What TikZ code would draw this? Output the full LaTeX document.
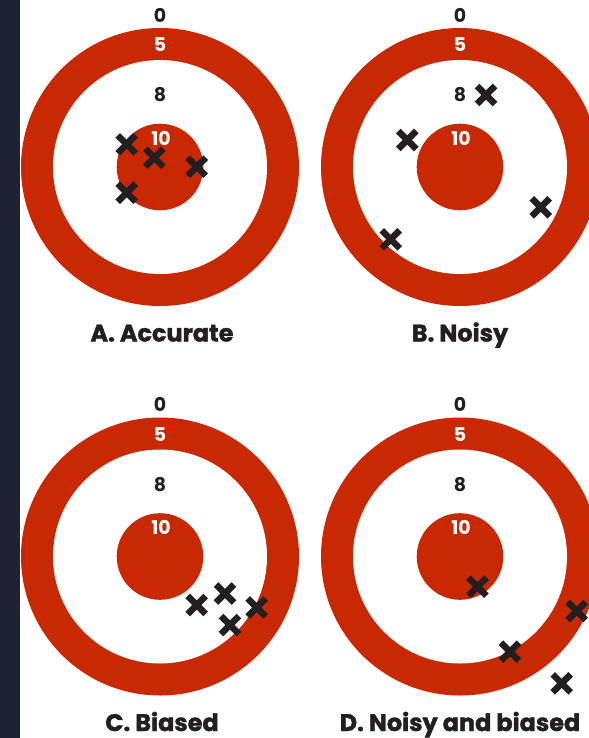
\documentclass[tikz,border=0pt]{standalone}
\usepackage{fontspec}
\setmainfont{Poppins}
\newfontfamily\ttlfont[BoldFeatures={FakeBold=1.6}]{Poppins}
\definecolor{hbrred}{RGB}{200,40,2}
\definecolor{strip}{RGB}{29,35,48}
\definecolor{ink}{RGB}{35,31,32}
\tikzset{
  num/.style={font=\bfseries\fontsize{19}{19}\selectfont, text=ink, inner sep=0pt},
  wnum/.style={font=\bfseries\fontsize{19}{19}\selectfont, text=white, inner sep=0pt},
  ttl/.style={font=\ttlfont\bfseries\fontsize{24}{24}\selectfont, text=ink, inner sep=0pt, anchor=base},
  hit/.style={draw=ink, line width=6.5bp},
}
\newcommand{\hitmark}[2]{\draw[hit] (#1-9,#2-9) -- (#1+9,#2+9) (#1-9,#2+9) -- (#1+9,#2-9);}
\newcommand{\targetat}[3]{%
  \fill[hbrred] (#1,#2) circle (139);
  \fill[white] (#1,#2) circle (107);
  \fill[hbrred] (#1,#2) circle (43.3);
  \node[num] (#3z) at (#1,#2-152) {0};
  \node[wnum] (#3f) at (#1,#2-122) {5};
  \node[num] (#3e) at (#1,#2-72) {8};
  \node[wnum] (#3t) at (#1+1,#2-29) {10};
}
\begin{document}
\begin{tikzpicture}[x=1bp,y=-1bp]
\useasboundingbox (0,0) rectangle (589,738);
\clip (0,0) rectangle (589,738);
\fill[white] (0,0) rectangle (589,738);
\fill[strip] (0,0) rectangle (20,738);
% A
\targetat{160}{167}{a}
\node[ttl] (atitle) at (162,341.5) {A. Accurate};
\hitmark{126.7}{144.3}
\hitmark{154.3}{157.7}
\hitmark{196.7}{166.7}
\hitmark{126.7}{192.7}
% B
\targetat{460}{167}{b}
\node[ttl] (btitle) at (460,341.5) {B. Noisy};
\hitmark{486}{95}
\hitmark{407.3}{140}
\hitmark{540.7}{207.3}
\hitmark{390.7}{239.3}
% C
\targetat{160}{556.5}{c}
\node[ttl] (ctitle) at (162,731) {C. Biased};
\hitmark{196.7}{605}
\hitmark{225}{593.5}
\hitmark{256.7}{607.5}
\hitmark{230}{625}
% D
\targetat{460}{556.5}{d}
\node[ttl] (dtitle) at (460,731) {D. Noisy and biased};
\hitmark{477.5}{586.7}
\hitmark{576.7}{611}
\hitmark{510}{651.7}
\hitmark{561.7}{683.3}
\end{tikzpicture}
\end{document}
